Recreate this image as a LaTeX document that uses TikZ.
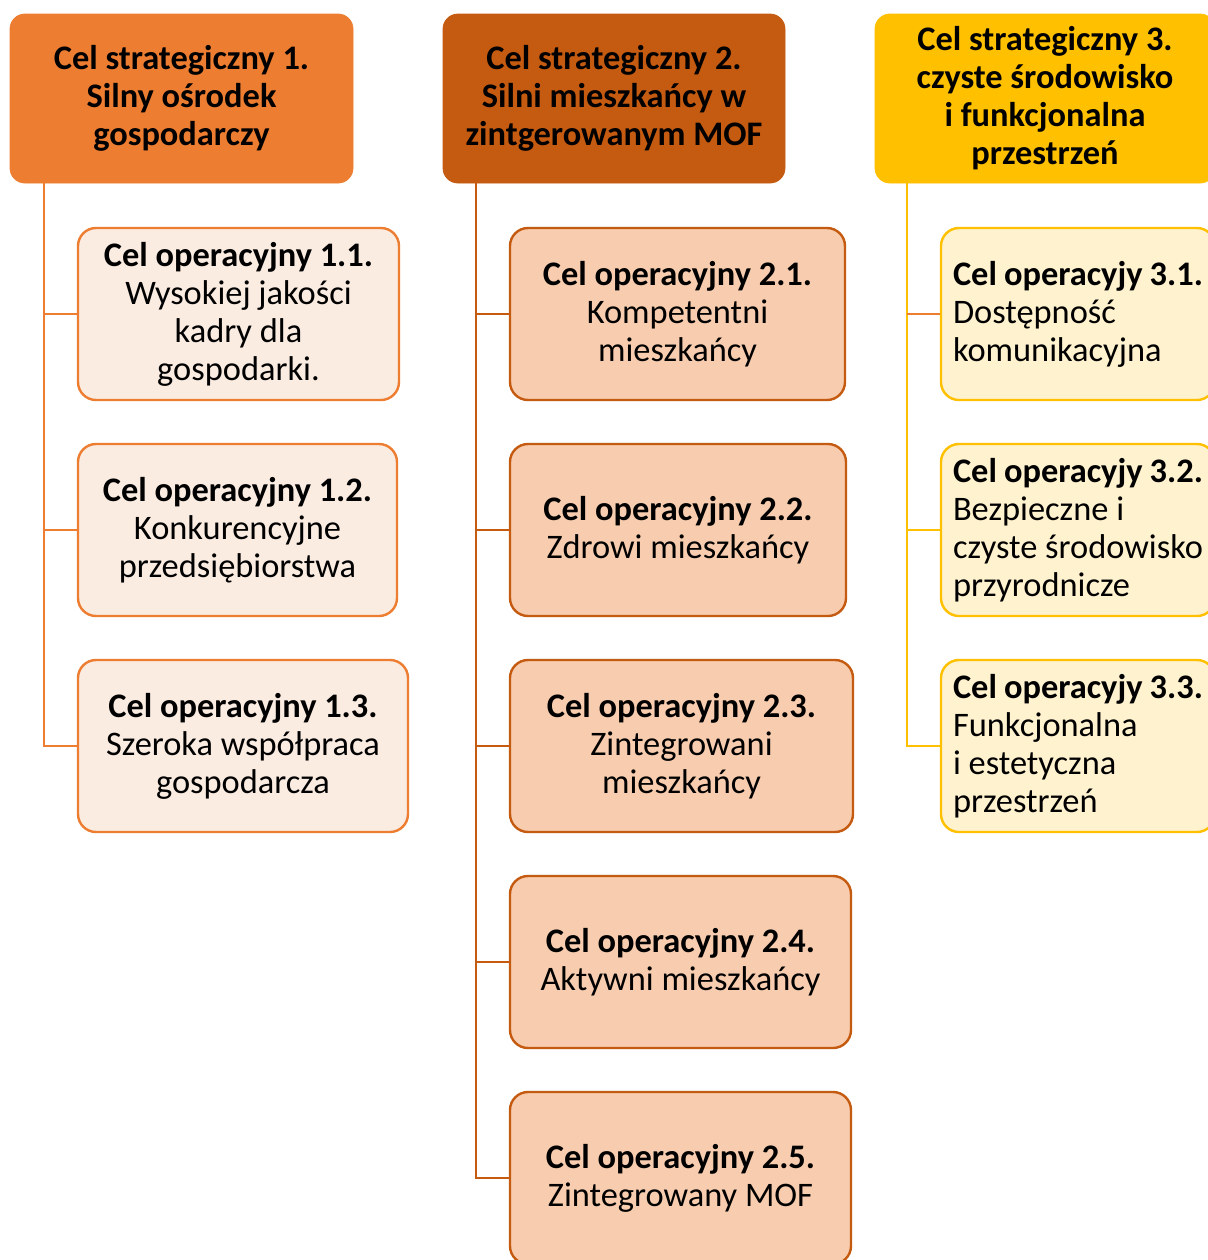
\documentclass[tikz,border=0pt]{standalone}
\usepackage{fontspec}
\setmainfont{Carlito}
\definecolor{orA}{HTML}{ED7D31}
\definecolor{orB}{HTML}{C55A11}
\definecolor{yeC}{HTML}{FFC000}
\definecolor{fillA}{HTML}{FBECE2}
\definecolor{fillB}{HTML}{F8CDAF}
\definecolor{fillC}{HTML}{FFF2CF}
\newcommand{\txtsize}{\fontsize{17.2}{19}\selectfont}
\tikzset{
  strat/.style={rounded corners=7.5pt, align=center, font=\txtsize\bfseries,
    minimum height=84.5pt, inner sep=2pt},
  opbox/.style={rounded corners=9pt, line width=1.2pt, align=center,
    minimum height=86pt, inner sep=2pt},
  opA/.style={opbox, draw=orA, fill=fillA},
  opB/.style={opbox, draw=orB, fill=fillB},
  opC/.style={opbox, draw=yeC, fill=fillC, align=flush left, text width=125pt,
    minimum width=137pt, inner xsep=6pt},
  link/.style={line width=1.2pt}
}
\begin{document}
\begin{tikzpicture}[x=0.5pt, y=-0.5pt, font=\txtsize]
	\clip (0,0) rectangle (1208,1260);
	\fill[white] (0,0) rectangle (1208,1260);

	% cele strategiczne
	\node[strat, draw=orA, fill=orA, minimum width=171.5pt] (s1) at (181.5,98.5)
		{Cel strategiczny 1.\\Silny ośrodek\\gospodarczy};
	\node[strat, draw=orB, fill=orB, minimum width=171pt] (s2) at (614,98.5)
		{Cel strategiczny 2.\\Silni mieszkańcy w\\zintgerowanym MOF};
	\node[strat, draw=yeC, fill=yeC, minimum width=170pt] (s3) at (1045,98.5)
		{Cel strategiczny 3.\\czyste środowisko\\i funkcjonalna\\przestrzeń};

	% cele operacyjne 1
	\node[opA, minimum width=160.5pt] (o11) at (238.5,314)
		{\textbf{Cel operacyjny 1.1.}\\Wysokiej jakości\\kadry dla\\gospodarki.};
	\node[opA, minimum width=159.5pt] (o12) at (237.5,530)
		{\textbf{Cel operacyjny 1.2.}\\Konkurencyjne\\przedsiębiorstwa};
	\node[opA, minimum width=165pt] (o13) at (243,746)
		{\textbf{Cel operacyjny 1.3.}\\Szeroka współpraca\\gospodarcza};

	% cele operacyjne 2
	\node[opB, minimum width=167.5pt] (o21) at (677.5,314)
		{\textbf{Cel operacyjny 2.1.}\\Kompetentni\\mieszkańcy};
	\node[opB, minimum width=168pt] (o22) at (678,530)
		{\textbf{Cel operacyjny 2.2.}\\Zdrowi mieszkańcy};
	\node[opB, minimum width=171.5pt] (o23) at (681.5,746)
		{\textbf{Cel operacyjny 2.3.}\\Zintegrowani\\mieszkańcy};
	\node[opB, minimum width=170.5pt] (o24) at (680.5,962)
		{\textbf{Cel operacyjny 2.4.}\\Aktywni mieszkańcy};
	\node[opB, minimum width=170.5pt] (o25) at (680.5,1178)
		{\textbf{Cel operacyjny 2.5.}\\Zintegrowany MOF};

	% cele operacyjne 3
	\node[opC] (o31) at (1078,314)
		{\textbf{Cel operacyjy 3.1.}\\Dostępność\\komunikacyjna};
	\node[opC] (o32) at (1078,530)
		{\textbf{Cel operacyjy 3.2.}\\Bezpieczne i\\czyste środowisko\\przyrodnicze};
	\node[opC] (o33) at (1078,746)
		{\textbf{Cel operacyjy 3.3.}\\Funkcjonalna\\i estetyczna\\przestrzeń};

	% linie
	\coordinate (t1) at (44,183);
	\coordinate (t2) at (476,183);
	\coordinate (t3) at (907,183);
	\draw[link, orA] (t1) |- (o13.west);
	\draw[link, orA] (t1 |- o11.west) -- (o11.west);
	\draw[link, orA] (t1 |- o12.west) -- (o12.west);
	\draw[link, orB] (t2) |- (o25.west);
	\foreach \n in {o21,o22,o23,o24}
		\draw[link, orB] (t2 |- \n.west) -- (\n.west);
	\draw[link, yeC] (t3) |- (o33.west);
	\draw[link, orA] (t3 |- o31.west) -- (o31.west);
	\draw[link, yeC] (t3 |- o32.west) -- (o32.west);
\end{tikzpicture}
\end{document}
